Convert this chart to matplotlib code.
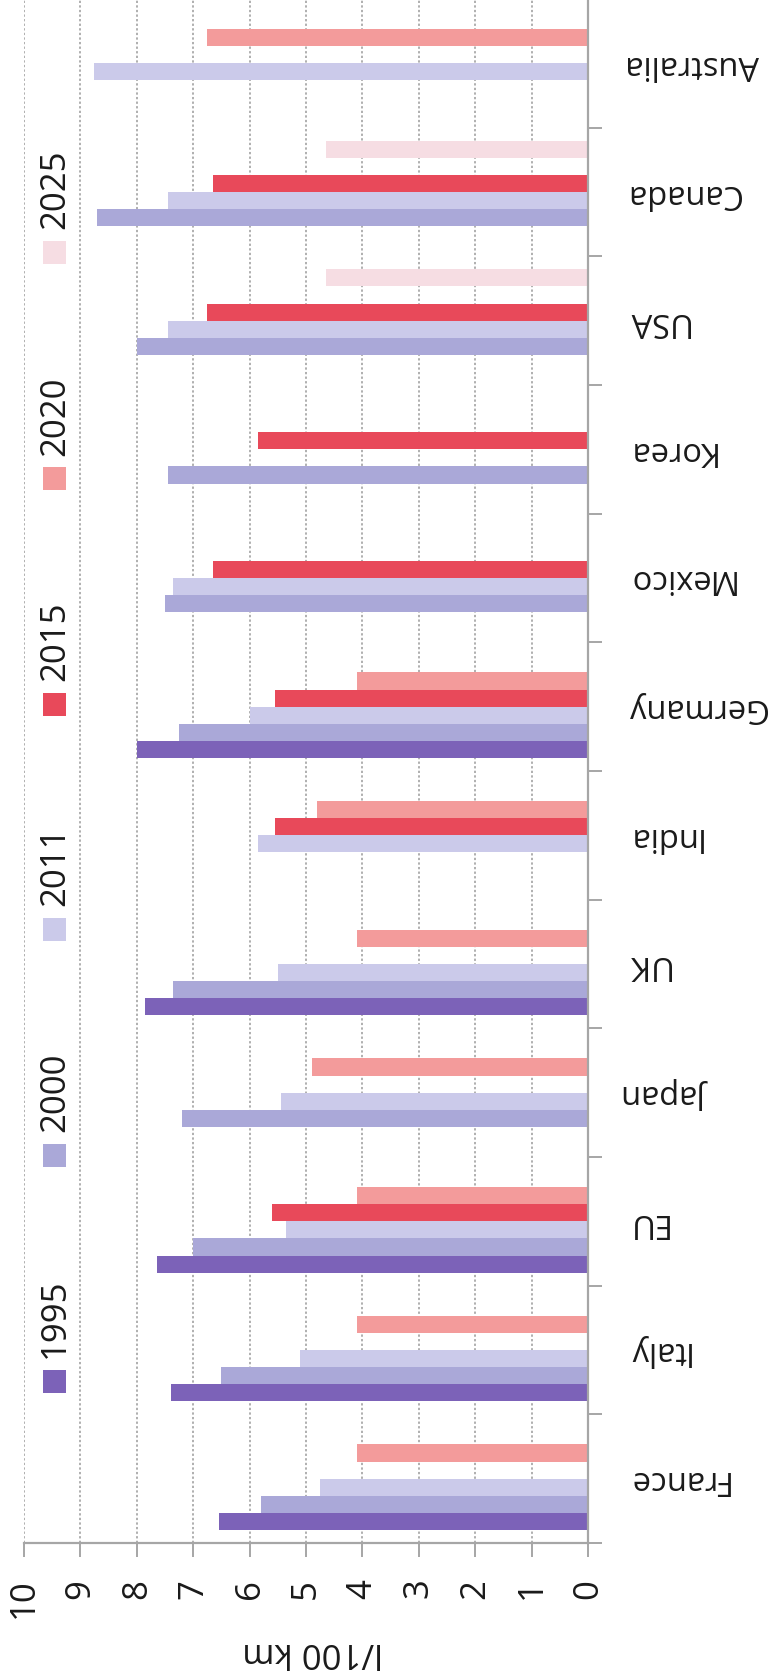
import numpy as np
import matplotlib
matplotlib.use("Agg")
import matplotlib.pyplot as plt
from matplotlib.patches import Rectangle

nan = np.nan
categories = ["France", "Italy", "EU", "Japan", "UK", "India", "Germany",
              "Mexico", "Korea", "USA", "Canada", "Australia"]
years = ["1995", "2000", "2011", "2015", "2020", "2025"]
v1995 = [6.55, 7.4, 7.65, nan, 7.85, nan, 8.0, nan, nan, nan, nan, nan]
v2000 = [5.8, 6.5, 7.0, 7.2, 7.35, nan, 7.25, 7.5, 7.45, 8.0, 8.7, nan]
v2011 = [4.75, 5.1, 5.35, 5.45, 5.5, 5.85, 6.0, 7.35, nan, 7.45, 7.45, 8.75]
v2015 = [nan, nan, 5.6, nan, nan, 5.55, 5.55, 6.65, 5.85, 6.75, 6.65, nan]
v2020 = [4.1, 4.1, 4.1, 4.9, 4.1, 4.8, 4.1, nan, nan, nan, nan, 6.75]
v2025 = [nan, nan, nan, nan, nan, nan, nan, nan, nan, 4.65, 4.65, nan]
series = [v1995, v2000, v2011, v2015, v2020, v2025]
colors = ["#7C62B8", "#AAA8D8", "#CBCAEA", "#E8495A", "#F39B9B", "#F6DDE3"]
xticks = list(range(0, 11))
axis_label = "l/100 km"

W, H = 777, 1681
fig = plt.figure(figsize=(W / 100, H / 100), dpi=100)
FONT = ["Open Sans", "DejaVu Sans"]
FS = 25

left, right, top, bottom = 24, 588, 0, 1544
ax = fig.add_axes([left / W, 1 - bottom / H, (right - left) / W, (bottom - top) / H])

n = len(categories)
y = np.arange(n)
bh = 0.133
for j, (vals, c) in enumerate(zip(series, colors)):
    ax.barh(y + (j - 2.5) * bh, vals, height=bh, color=c, edgecolor="none", zorder=3)

ax.set_xlim(10, 0)
ax.set_ylim(-0.5, n - 0.5)

gray = "#A6A6A6"
for v in xticks[1:]:
    ax.axvline(v, color="#9A9A9A", lw=1.1, ls=(0, (1.5, 1.5)), zorder=1)

for s in ["top", "left"]:
    ax.spines[s].set_visible(False)
for s in ["right", "bottom"]:
    ax.spines[s].set_color(gray)
    ax.spines[s].set_linewidth(1.6)
    ax.spines[s].set_zorder(4)

ax.set_xticks(xticks)
ax.set_xticklabels([str(t) for t in xticks], rotation=90, va="top", ha="center",
                   family=FONT, fontsize=FS, color="#1a1a1a")
ax.tick_params(axis="x", direction="out", length=10, width=1.4, color=gray, pad=15)

ax.yaxis.tick_right()
ax.set_yticks(np.arange(-0.5, n, 1.0), minor=True)
ax.set_yticks(y)
ax.set_yticklabels(categories, rotation=180, ha="left", va="center",
                   family=FONT, fontsize=23.5, color="#1a1a1a")
ax.tick_params(axis="y", which="major", length=0, pad=27)
ax.tick_params(axis="y", which="minor", direction="out", length=10, width=1.4, color=gray)

fig.text(313 / W, 1 - 1652 / H, axis_label, rotation=180, ha="center", va="center",
         family=FONT, fontsize=FS, color="#1a1a1a")

# legend (rotated layout)
centers = [1382, 1156, 930, 705, 479, 253]
ms = 23
for yr, c, cy in zip(years, colors, centers):
    fig.patches.append(Rectangle(((54 - ms / 2) / W, 1 - (cy + ms / 2) / H), ms / W, ms / H,
                                 transform=fig.transFigure, facecolor=c, edgecolor="none"))
    fig.text(55 / W, 1 - (cy - ms / 2 - 12) / H, yr, rotation=90, ha="center", va="bottom",
             family=FONT, fontsize=FS, color="#1a1a1a")

fig.savefig("out.png", dpi=100, facecolor="white")
